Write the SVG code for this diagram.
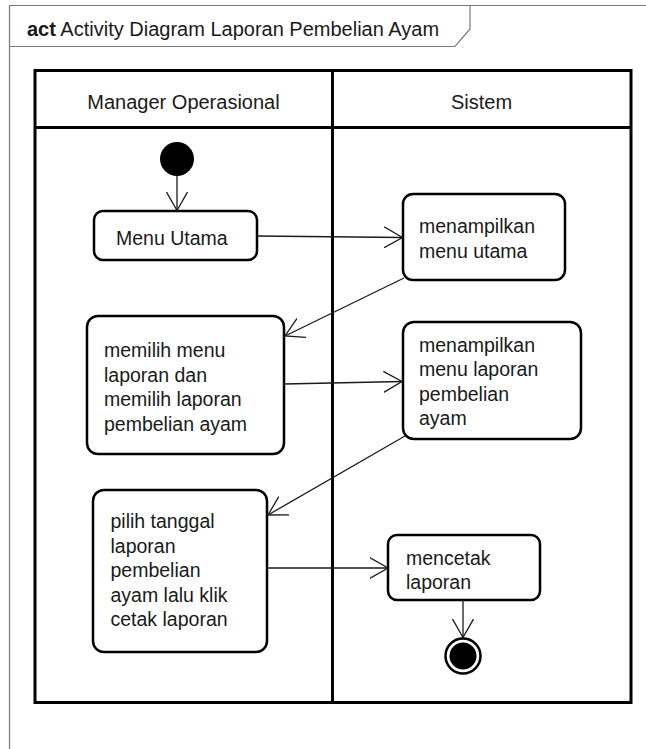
<svg xmlns="http://www.w3.org/2000/svg" width="646" height="749" viewBox="0 0 646 749">
<style>
.frame{fill:none;stroke:#7a7a7a;stroke-width:1.2}
.lane{fill:none;stroke:#000;stroke-width:3}
.act{fill:#fff;stroke:#000;stroke-width:2.5}
.edge{fill:none;stroke:#1a1a1a;stroke-width:1.3}
text{font-family:"Liberation Sans",Arial,sans-serif;fill:#1a1a1a}
.t{font-size:19.5px}
.h{font-size:20px}
</style>
<defs>
<marker id="arr" viewBox="0 0 20 22" markerWidth="20" markerHeight="22" refX="18.5" refY="11" orient="auto" markerUnits="userSpaceOnUse">
<path d="M0,0.5 L18.5,11 L0,21.5" fill="none" stroke="#1a1a1a" stroke-width="1.3"/>
</marker>
</defs>
<rect width="646" height="749" fill="#fff"/>
<g id="frame">
<path class="frame" d="M9.5,749 L9.5,5.5 L646,5.5"/>
<path class="frame" d="M9.5,46.5 L455,46.5 L470,29 L470,5.5"/>
<text x="27" y="35.5" class="h"><tspan font-weight="bold">act</tspan> Activity Diagram Laporan Pembelian Ayam</text>
</g>
<g id="swimlanes">
<rect class="lane" x="35" y="70.5" width="596" height="632"/>
<line class="lane" x1="35" y1="127.5" x2="631" y2="127.5"/>
<line class="lane" x1="332.5" y1="70.5" x2="332.5" y2="702.5"/>
<text x="183.5" y="108.5" class="h" text-anchor="middle">Manager Operasional</text>
<text x="481.5" y="108.5" class="h" text-anchor="middle">Sistem</text>
</g>
<g id="start">
<circle cx="177" cy="159" r="17" fill="#000"/>
</g>
<g id="menu-utama">
<rect class="act" x="94" y="211" width="163" height="49" rx="9"/>
<text x="116" y="244.5" class="t">Menu Utama</text>
</g>
<g id="menampilkan-menu-utama">
<rect class="act" x="403" y="194" width="162" height="86" rx="10"/>
<text class="t"><tspan x="419" y="233">menampilkan</tspan><tspan x="419" y="257.5">menu utama</tspan></text>
</g>
<g id="memilih-menu-laporan">
<rect class="act" x="87" y="316" width="197" height="138" rx="11"/>
<text class="t"><tspan x="104" y="357">memilih menu</tspan><tspan x="104" y="381.5">laporan dan</tspan><tspan x="104" y="406">memilih laporan</tspan><tspan x="104" y="430.5">pembelian ayam</tspan></text>
</g>
<g id="menampilkan-menu-laporan">
<rect class="act" x="403" y="322" width="178" height="117" rx="11"/>
<text class="t"><tspan x="419" y="351.5">menampilkan</tspan><tspan x="419" y="376">menu laporan</tspan><tspan x="419" y="400.5">pembelian</tspan><tspan x="419" y="425">ayam</tspan></text>
</g>
<g id="pilih-tanggal">
<rect class="act" x="93" y="490" width="174" height="162" rx="11"/>
<text class="t"><tspan x="110.5" y="528">pilih tanggal</tspan><tspan x="110.5" y="552.5">laporan</tspan><tspan x="110.5" y="577">pembelian</tspan><tspan x="110.5" y="601.5">ayam lalu klik</tspan><tspan x="110.5" y="626">cetak laporan</tspan></text>
</g>
<g id="mencetak-laporan">
<rect class="act" x="388" y="535" width="152" height="65" rx="9"/>
<text class="t"><tspan x="406" y="565">mencetak</tspan><tspan x="406" y="589">laporan</tspan></text>
</g>
<g id="end">
<circle cx="463" cy="656" r="17.5" fill="#fff" stroke="#000" stroke-width="2.5"/>
<circle cx="463" cy="656" r="13.5" fill="#000"/>
</g>
<g id="connectors">
<line class="edge" x1="177" y1="176" x2="177" y2="210.5" marker-end="url(#arr)"/>
<line class="edge" x1="257" y1="236" x2="402.5" y2="237.5" marker-end="url(#arr)"/>
<line class="edge" x1="404" y1="278" x2="285" y2="336" marker-end="url(#arr)"/>
<line class="edge" x1="284" y1="384" x2="402" y2="381.5" marker-end="url(#arr)"/>
<line class="edge" x1="405" y1="436" x2="268" y2="515" marker-end="url(#arr)"/>
<line class="edge" x1="267" y1="568" x2="388" y2="568" marker-end="url(#arr)"/>
<line class="edge" x1="463" y1="600" x2="463" y2="637.5" marker-end="url(#arr)"/>
</g>
</svg>
